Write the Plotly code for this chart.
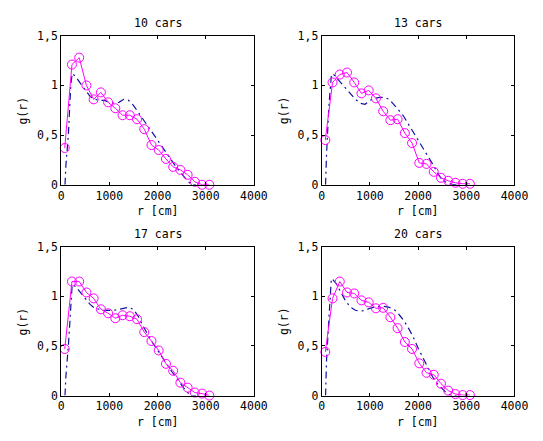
import plotly.graph_objects as go

# Radial distance of the measured bins (cm)
R_BINS = [75, 225, 375, 525, 675, 825, 975, 1125, 1275, 1425, 1575,
          1725, 1875, 2025, 2175, 2325, 2475, 2625, 2775, 2925, 3075]

# Measured g(r), one list per car count
G_10 = [0.37, 1.21, 1.28, 1.00, 0.86, 0.93, 0.83, 0.77, 0.70, 0.70, 0.66,
        0.56, 0.40, 0.35, 0.26, 0.18, 0.15, 0.10, 0.03, 0.00, 0.00]
G_13 = [0.45, 1.03, 1.11, 1.13, 1.03, 0.92, 0.95, 0.87, 0.74, 0.65, 0.66,
        0.52, 0.42, 0.22, 0.21, 0.13, 0.07, 0.04, 0.02, 0.01, 0.01]
G_17 = [0.47, 1.15, 1.15, 1.04, 0.98, 0.87, 0.83, 0.78, 0.81, 0.80, 0.77,
        0.64, 0.55, 0.455, 0.32, 0.25, 0.13, 0.08, 0.03, 0.02, 0.00]
G_20 = [0.44, 0.98, 1.15, 1.04, 1.03, 0.96, 0.94, 0.88, 0.885, 0.79, 0.68,
        0.54, 0.47, 0.325, 0.23, 0.21, 0.12, 0.05, 0.015, 0.005, 0.005]

# Reference (dash-dot) curve
R_REF = [80, 100, 150, 200, 230, 300, 400, 500, 600, 700, 800, 900, 1000,
         1100, 1200, 1300, 1400, 1500, 1600, 1700, 1800, 1900, 2000, 2100,
         2200, 2300, 2400, 2500, 2600, 2700, 2800]
REF_10 = [0.0, 0.2, 0.5, 1.0, 1.12, 1.09, 1.02, 0.95, 0.89, 0.86, 0.85, 0.85,
          0.83, 0.82, 0.83, 0.86, 0.85, 0.80, 0.73, 0.66, 0.59, 0.52, 0.45,
          0.38, 0.30, 0.23, 0.17, 0.11, 0.05, 0.0, 0.0]
REF_13 = [0.0, 0.3, 0.8, 1.1, 1.12, 1.08, 1.02, 0.97, 0.91, 0.86, 0.82, 0.81,
          0.85, 0.87, 0.88, 0.88, 0.86, 0.81, 0.75, 0.69, 0.61, 0.53, 0.45,
          0.37, 0.30, 0.21, 0.12, 0.05, 0.02, 0.005, 0.0]
REF_17 = [0.0, 0.2, 0.5, 0.85, 1.12, 1.10, 1.04, 0.98, 0.92, 0.88, 0.87, 0.86,
          0.86, 0.86, 0.87, 0.88, 0.89, 0.87, 0.80, 0.70, 0.61, 0.53, 0.46,
          0.38, 0.31, 0.24, 0.17, 0.10, 0.04, 0.0, 0.0]
REF_20 = [0.0, 0.35, 0.78, 1.18, 1.17, 1.13, 1.04, 0.95, 0.89, 0.86, 0.85, 0.86,
          0.88, 0.895, 0.90, 0.90, 0.89, 0.87, 0.82, 0.76, 0.68, 0.59, 0.48,
          0.38, 0.29, 0.19, 0.12, 0.07, 0.02, 0.0, 0.0]

TITLES = ["10 cars", "13 cars", "17 cars", "20 cars"]
X_TICKS = [0, 1000, 2000, 3000, 4000]
Y_TICKS = [0, 0.5, 1, 1.5]
Y_TICK_TEXT = ["0", "0,5", "1", "1,5"]

FONT = "DejaVu Sans Mono"
FONT_SIZE = 11.5
W, H = 543, 441

# pixel boxes of the four panels: (left, right, top, bottom)
boxes = [(60, 259, 29.7, 183.6), (329, 528, 29.7, 183.6),
         (60, 259, 247.7, 401.3), (329, 528, 247.7, 401.3)]

measured = [G_10, G_13, G_17, G_20]
reference = [REF_10, REF_13, REF_17, REF_20]


def _label(text, x_px, y_px, angle=0):
    return dict(text=text, x=x_px / W, y=1 - y_px / H, xref="paper",
                yref="paper", xanchor="center", yanchor="middle",
                textangle=angle, showarrow=False,
                font=dict(family=FONT, size=FONT_SIZE, color="black"))


fig = go.Figure()
layout = dict(
    width=W, height=H,
    margin=dict(l=0, r=0, t=0, b=0),
    paper_bgcolor="white", plot_bgcolor="white",
    showlegend=False,
    font=dict(family=FONT, size=FONT_SIZE, color="black"),
    annotations=[],
)

for i, (left, right, top, bottom) in enumerate(boxes):
    n = "" if i == 0 else str(i + 1)
    xa, ya = "x" + n, "y" + n
    fig.add_trace(go.Scatter(
        x=R_REF, y=reference[i], xaxis=xa, yaxis=ya, mode="lines",
        line=dict(color="#1010a0", width=1.2, dash="7px,4px,2px,4px"),
    ))
    fig.add_trace(go.Scatter(
        x=R_BINS, y=measured[i], xaxis=xa, yaxis=ya, mode="lines+markers",
        line=dict(color="#ff00ff", width=1),
        marker=dict(symbol="circle-open", size=9, color="#ff00ff",
                    line=dict(width=1, color="#ff00ff")),
        cliponaxis=False,
    ))
    axis_common = dict(
        showline=True, linecolor="black", linewidth=1, mirror="ticks",
        ticks="inside", ticklen=3, tickcolor="black", showgrid=False,
        zeroline=False,
        tickfont=dict(family=FONT, size=FONT_SIZE, color="black"),
    )
    layout["xaxis" + n] = dict(
        domain=[left / W, right / W], range=[0, 4000], anchor=ya,
        tickvals=X_TICKS, **axis_common)
    layout["yaxis" + n] = dict(
        domain=[1 - bottom / H, 1 - top / H], range=[0, 1.5], anchor=xa,
        tickvals=Y_TICKS, ticktext=Y_TICK_TEXT, **axis_common)

    cx = (left + right) / 2
    layout["annotations"].append(_label(TITLES[i], cx, top - 13))
    layout["annotations"].append(_label("r [cm]", cx, bottom + 27))
    layout["annotations"].append(
        _label("g(r)", left - 39, (top + bottom) / 2, angle=-90))

fig.update_layout(**layout)
# drop the default page margin so the 543x441 figure fills the window exactly
fig.write_html(
    "out.html",
    config={"displayModeBar": False},
    post_script="document.body.style.margin='0';"
                "document.body.style.overflow='hidden';",
)
